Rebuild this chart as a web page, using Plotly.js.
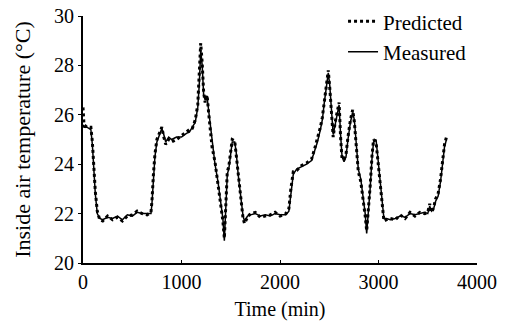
<!DOCTYPE html>
<html>
<head>
<meta charset="utf-8">
<script src="https://cdn.plot.ly/plotly-3.0.1.min.js"></script>
<style>html,body{margin:0;padding:0;background:#fff;}#chart{width:510px;height:325px;}</style>
</head>
<body>
<div id="chart"></div>
<script>
var timeMin = [0,10,40,80,95,110,125,145,170,200,250,300,350,400,450,500,550,600,650,690,
  700,715,730,750,780,800,820,840,870,900,950,1000,1050,1080,1110,1140,1165,1180,1195,1210,
  1225,1240,1260,1275,1290,1310,1340,1370,1400,1420,1435,1450,1465,1480,1500,1515,1540,1555,1575,1600,
  1625,1640,1670,1700,1750,1800,1850,1900,1950,2000,2060,2090,2110,2135,2170,2220,2270,2320,2350,2380,
  2410,2430,2450,2470,2490,2505,2515,2525,2540,2560,2580,2600,2615,2630,2650,2670,2690,2715,2738,2755,
  2775,2795,2820,2845,2865,2880,2895,2915,2935,2950,2975,2995,3015,3035,3055,3080,3120,3170,3220,3270,
  3320,3370,3420,3470,3500,3520,3540,3560,3580,3605,3630,3650,3670,3690];

var measured = [25.6,25.5,25.5,25.4,24.8,23.8,22.8,22.0,21.8,21.75,21.85,21.8,21.9,21.75,21.95,21.9,22.05,22.0,22.0,22.0,
  22.4,23.5,24.3,24.9,25.2,25.45,25.2,24.9,25.1,25.0,25.1,25.1,25.25,25.3,25.5,25.7,26.3,27.2,28.6,28.0,
  26.8,26.6,26.7,26.2,25.5,24.8,24.0,23.3,22.5,21.8,20.9,22.5,23.6,23.8,24.5,24.9,24.9,24.5,23.6,22.6,
  21.9,21.7,21.9,21.95,22.0,21.9,21.95,21.9,22.0,21.95,21.95,22.1,22.9,23.6,23.8,23.9,24.0,24.15,24.5,24.9,
  25.4,25.8,26.5,27.2,27.7,27.2,26.6,25.7,25.2,25.6,26.0,26.4,25.2,24.3,24.1,24.3,25.0,25.7,26.1,25.8,
  24.8,23.8,23.4,22.7,22.0,21.2,21.9,23.0,24.3,24.9,25.0,24.2,23.2,22.3,21.8,21.8,21.75,21.8,21.9,21.85,
  22.0,21.95,22.0,22.05,22.0,22.3,22.1,22.2,22.5,22.7,23.3,24.0,24.7,25.0];

var predicted = [26.3,25.6,25.5,25.5,24.9,23.9,22.9,22.1,21.75,21.7,21.9,21.75,21.85,21.7,21.9,21.95,22.1,22.0,21.95,22.05,
  22.5,23.6,24.4,25.0,25.3,25.5,25.1,24.8,25.0,24.9,25.0,25.15,25.3,25.4,25.45,25.8,26.4,27.4,28.9,28.1,
  26.9,26.5,26.8,26.1,25.4,24.7,24.1,23.2,22.4,21.7,21.0,22.4,23.7,23.9,24.6,25.0,24.95,24.4,23.5,22.5,
  21.8,21.6,21.85,22.0,22.05,21.85,21.9,21.95,22.05,21.9,22.0,22.2,23.0,23.7,23.75,23.95,24.05,24.2,24.6,25.0,
  25.5,25.9,26.6,27.3,27.8,27.1,26.5,25.6,25.1,25.7,26.1,26.5,25.1,24.2,24.2,24.4,25.1,25.8,26.2,25.7,
  24.7,23.7,23.3,22.6,21.9,21.3,22.0,23.1,24.4,25.0,24.9,24.1,23.1,22.2,21.7,21.75,21.8,21.75,21.95,21.8,
  22.05,21.9,22.05,22.0,22.05,22.4,22.05,22.25,22.6,22.8,23.4,24.1,24.8,25.1];

var xTicks = [0,1000,2000,3000,4000];
var yTicks = [20,22,24,26,28,30];

var font = {family: '"Liberation Serif", "Times New Roman", serif', color: '#000'};

var traces = [
  {x: timeMin, y: predicted, name: 'Predicted', type: 'scatter', mode: 'lines',
   line: {color: '#000', width: 3, dash: 'dot'}},
  {x: timeMin, y: measured, name: 'Measured', type: 'scatter', mode: 'lines',
   line: {color: '#000', width: 1.5}}
];

var layout = {
  width: 510, height: 325,
  margin: {l: 83, r: 33, t: 16, b: 62, autoexpand: false},
  paper_bgcolor: '#fff', plot_bgcolor: '#fff',
  showlegend: true,
  font: Object.assign({size: 20}, font),
  legend: {x: 0.66, y: 1.06, xanchor: 'left', yanchor: 'top', tracegroupgap: 0,
           bgcolor: 'rgba(0,0,0,0)', font: Object.assign({size: 21}, font)},
  xaxis: {range: [0, 4000], tickvals: xTicks, ticktext: xTicks.map(String),
          showgrid: false, zeroline: false, showline: true, linecolor: '#000', linewidth: 2,
          ticks: 'inside', ticklen: 3, tickcolor: '#000', tickfont: Object.assign({size: 20}, font),
          title: {text: 'Time (min)', font: Object.assign({size: 20}, font), standoff: 10}},
  yaxis: {range: [20, 30], tickvals: yTicks, ticktext: yTicks.map(String),
          showgrid: false, zeroline: false, showline: true, linecolor: '#000', linewidth: 2,
          ticks: 'outside', ticklen: 3, tickcolor: '#000', tickfont: Object.assign({size: 20}, font),
          title: {text: 'Inside air temperature (°C)', font: Object.assign({size: 22}, font), standoff: 17}}
};

Plotly.newPlot('chart', traces, layout, {displayModeBar: false, staticPlot: true});
</script>
</body>
</html>
